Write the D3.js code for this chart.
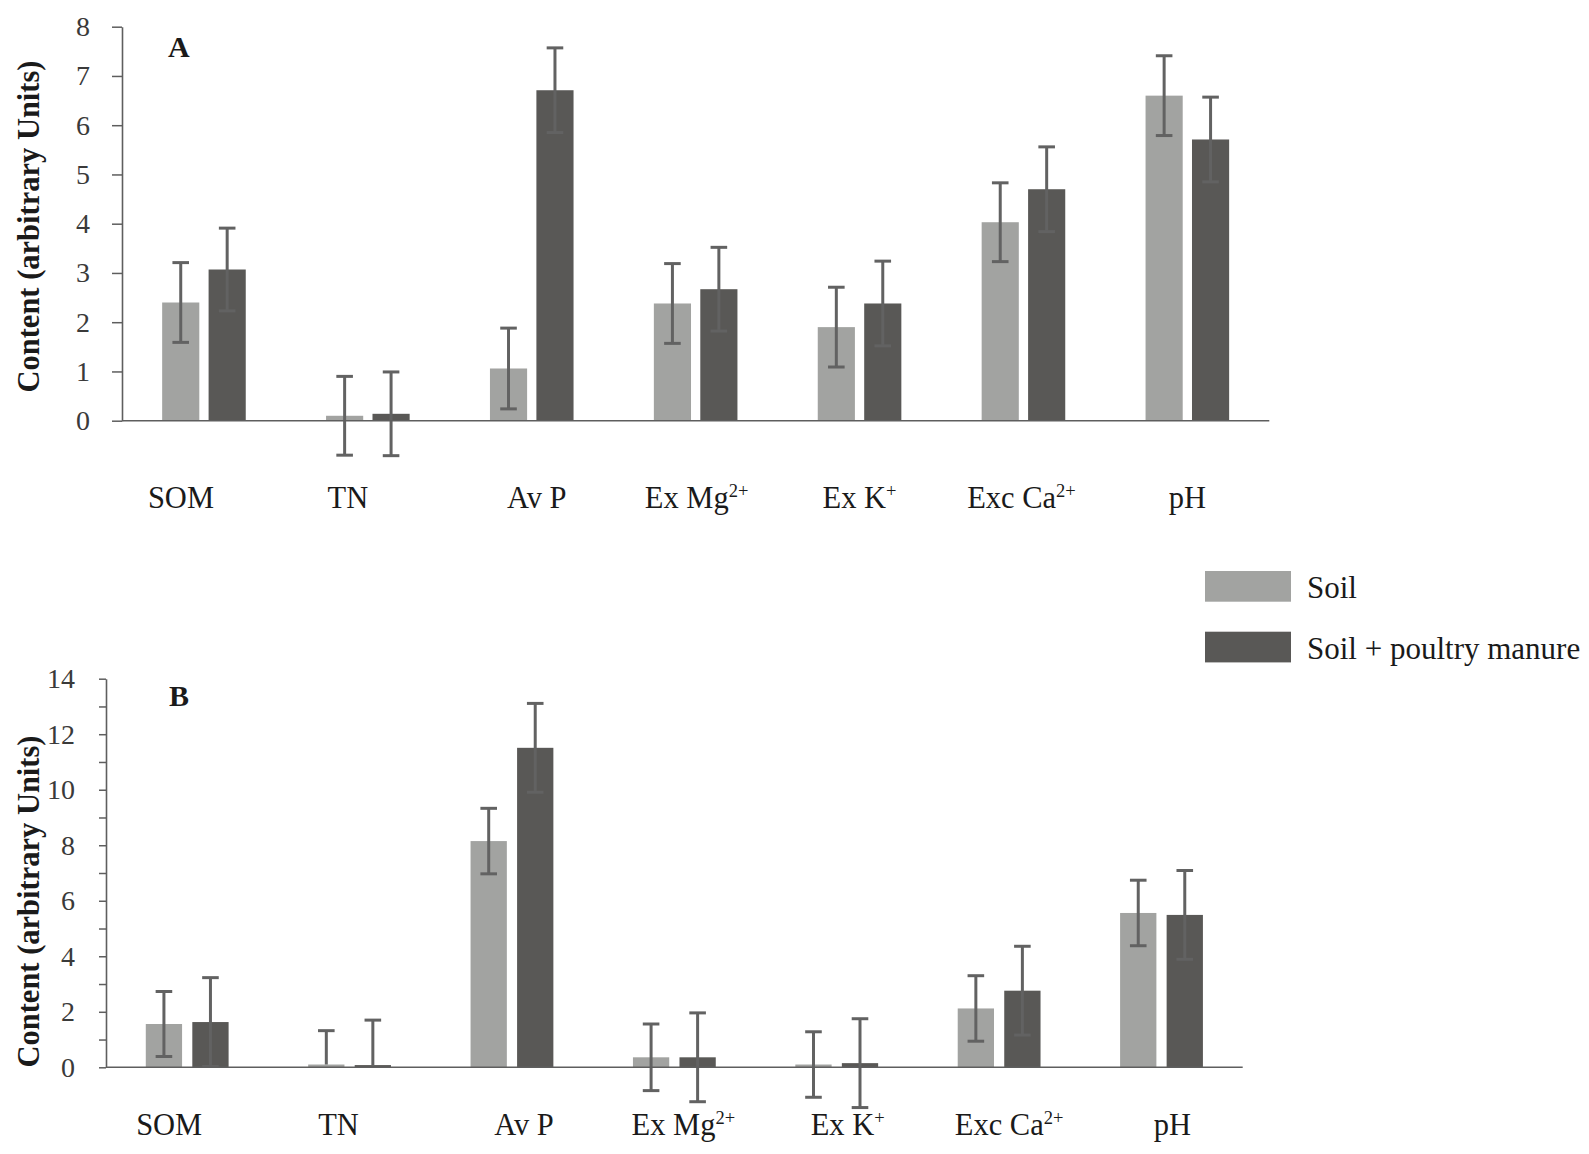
<!DOCTYPE html>
<html>
<head>
<meta charset="utf-8">
<script src="https://cdn.jsdelivr.net/npm/d3@7"></script>
<style>
  html, body { margin: 0; padding: 0; background: #fff; }
  svg { display: block; font-family: "Liberation Serif", "Times New Roman", serif; }
</style>
</head>
<body>
<div id="chart"></div>
<script>
// categories, with the superscript part of each label
const categories = ["SOM", "TN", "Av P", "Ex Mg", "Ex K", "Exc Ca", "pH"];
const catSup = ["", "", "", "2+", "+", "2+", ""];
const seriesNames = ["Soil", "Soil + poultry manure"];

// panel A
const soilA      = [2.40, 0.10, 1.06, 2.38, 1.90, 4.03, 6.60];
const soilErrA   = [0.81, 0.80, 0.82, 0.81, 0.81, 0.80, 0.81];
const manureA    = [3.07, 0.14, 6.71, 2.67, 2.38, 4.70, 5.71];
const manureErrA = [0.84, 0.85, 0.86, 0.85, 0.86, 0.86, 0.86];
const yTicksA = [0, 1, 2, 3, 4, 5, 6, 7, 8];

// panel B (TN only has the upper half of its error bars)
const soilB      = [1.56, 0.10, 8.15, 0.36, 0.10, 2.12, 5.56];
const soilErrB   = [1.17, 1.22, 1.18, 1.20, 1.18, 1.18, 1.18];
const manureB    = [1.63, 0.08, 11.51, 0.36, 0.15, 2.76, 5.49];
const manureErrB = [1.60, 1.62, 1.60, 1.60, 1.60, 1.60, 1.60];
const lowerErrB  = [true, false, true, true, true, true, true];
const yTicksB = [0, 1, 2, 3, 4, 5, 6, 7, 8, 9, 10, 11, 12, 13, 14];

const colors = ["#a2a3a1", "#595856"];
const errColor = "#626262";
const axisColor = "#5e5e5e";
const textColor = "#1a1a1a";

const W = 1589, H = 1154;

const svg = d3.create("svg")
  .attr("width", W)
  .attr("height", H)
  .attr("viewBox", `0 0 ${W} ${H}`);

const panels = [
  {
    tag: "A", series: [soilA, manureA], errs: [soilErrA, manureErrA], lower: null,
    yMax: 8, ticks: yTicksA, labelEvery: 1,
    left: 122, right: 1269.3, top: 26.7, bottom: 420.7,
    tickLen: 10, tickPad: 22, labelY: 508, titleX: 29, titleY: 226.5, tagX: 168, tagY: 57,
    nudge: [-23, -20, 5, 1, 0, -2, 0], innerPad: 0.2
  },
  {
    tag: "B", series: [soilB, manureB], errs: [soilErrB, manureErrB], lower: lowerErrB,
    yMax: 14, ticks: yTicksB, labelEvery: 2,
    left: 106, right: 1242.7, top: 678.7, bottom: 1067.3,
    tickLen: 7, tickPad: 24, labelY: 1135, titleX: 28.5, titleY: 901.5, tagX: 169, tagY: 705.7,
    nudge: [-18, -11, 12, 9, 11, 10, 11], innerPad: 0.22
  }
];

panels.forEach(p => {
  const x = d3.scaleBand().domain(categories).range([p.left, p.right]);
  const half = x.bandwidth() * 0.255;
  const x1 = d3.scaleBand().domain([0, 1]).range([-half, half]).paddingInner(p.innerPad);
  const y = d3.scaleLinear().domain([0, p.yMax]).range([p.bottom, p.top]);

  const g = svg.append("g");

  // bars
  p.series.forEach((vals, s) => {
    g.append("g").selectAll("rect")
      .data(vals)
      .join("rect")
      .attr("x", (d, i) => x(categories[i]) + x.bandwidth() / 2 + x1(s))
      .attr("width", x1.bandwidth())
      .attr("y", d => y(d))
      .attr("height", d => y(0) - y(d))
      .attr("fill", colors[s]);
  });

  // error bars
  p.series.forEach((vals, s) => {
    const eg = g.append("g")
      .attr("stroke", errColor)
      .attr("stroke-width", 3)
      .attr("fill", "none");
    vals.forEach((v, i) => {
      const cx = x(categories[i]) + x.bandwidth() / 2 + x1(s) + x1.bandwidth() / 2;
      const e = p.errs[s][i];
      const hasLow = !p.lower || p.lower[i];
      const lo = hasLow ? v - e : v;
      eg.append("line")
        .attr("x1", cx).attr("x2", cx)
        .attr("y1", y(v + e)).attr("y2", y(lo));
      eg.append("line")
        .attr("x1", cx - 8.3).attr("x2", cx + 8.3)
        .attr("y1", y(v + e)).attr("y2", y(v + e));
      if (hasLow) {
        eg.append("line")
          .attr("x1", cx - 8.3).attr("x2", cx + 8.3)
          .attr("y1", y(lo)).attr("y2", y(lo));
      }
    });
  });

  // y axis
  const yAxis = g.append("g")
    .attr("transform", `translate(${p.left},0)`)
    .call(d3.axisLeft(y)
      .tickValues(p.ticks)
      .tickSize(p.tickLen)
      .tickSizeOuter(0)
      .tickPadding(p.tickPad)
      .tickFormat(d => d % p.labelEvery === 0 ? d : ""));
  yAxis.select(".domain").attr("stroke", axisColor).attr("stroke-width", 1.6);
  yAxis.selectAll(".tick line").attr("stroke", axisColor).attr("stroke-width", 1.5);
  yAxis.selectAll(".tick text")
    .attr("fill", "#3a3a3a")
    .attr("font-size", 28)
    .attr("font-family", "Liberation Serif, serif");

  // x axis baseline
  g.append("line")
    .attr("x1", p.left).attr("x2", p.right)
    .attr("y1", y(0)).attr("y2", y(0))
    .attr("stroke", axisColor)
    .attr("stroke-width", 1.6);

  // category labels
  const lab = g.append("g").selectAll("text")
    .data(categories)
    .join("text")
    .attr("x", (d, i) => x(d) + x.bandwidth() / 2 + p.nudge[i])
    .attr("y", p.labelY)
    .attr("text-anchor", "middle")
    .attr("font-size", 30.5)
    .attr("fill", textColor);
  lab.append("tspan").text(d => d);
  lab.append("tspan")
    .attr("font-size", 18.5)
    .attr("dy", -11.5)
    .text((d, i) => catSup[i]);

  // panel tag
  g.append("text")
    .attr("x", p.tagX)
    .attr("y", p.tagY)
    .attr("font-size", 30)
    .attr("font-weight", "bold")
    .attr("fill", textColor)
    .text(p.tag);

  // y title
  g.append("text")
    .attr("transform", `translate(${p.titleX},${p.titleY}) rotate(-90)`)
    .attr("text-anchor", "middle")
    .attr("dominant-baseline", "central")
    .attr("font-size", 30.5)
    .attr("font-weight", "bold")
    .attr("fill", textColor)
    .text("Content (arbitrary Units)");
});

// legend
const legend = svg.append("g").attr("transform", "translate(1205,571)");
seriesNames.forEach((name, i) => {
  legend.append("rect")
    .attr("x", 0)
    .attr("y", i * 60.7)
    .attr("width", 86)
    .attr("height", 30.7)
    .attr("fill", colors[i]);
  legend.append("text")
    .attr("x", 102)
    .attr("y", i * 60.7 + 27)
    .attr("font-size", 31)
    .attr("fill", textColor)
    .text(name);
});

d3.select("#chart").node().appendChild(svg.node());
</script>
</body>
</html>
